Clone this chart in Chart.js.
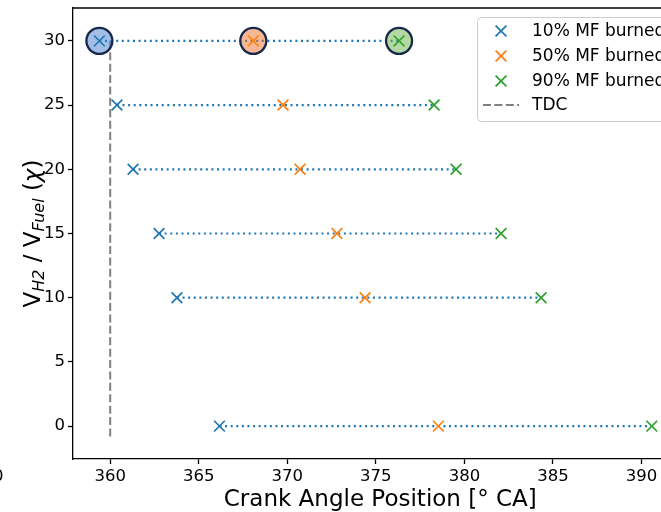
<!DOCTYPE html>
<html>
<head>
<meta charset="utf-8">
<script src="https://cdn.jsdelivr.net/npm/chart.js@4.4.0/dist/chart.umd.min.js"></script>
<style>
    html, body { margin: 0; padding: 0; background: #fff; }
</style>
</head>
<body>
<canvas id="chart" width="661" height="512"></canvas>
<script>
// Data
const ratios = [30, 25, 20, 15, 10, 0];
const mfb10 = [359.39, 360.38, 361.29, 362.76, 363.77, 366.17];
const mfb50 = [368.08, 369.76, 370.72, 372.8, 374.39, 378.53];
const mfb90 = [376.31, 378.29, 379.53, 382.07, 384.33, 390.58];
const highlightRatio = 30;
const tdcAngle = 360;
const tdcRange = [30, -1];
const xTicks = [360, 365, 370, 375, 380, 385, 390];
const yTicks = [0, 5, 10, 15, 20, 25, 30];
const seriesNames = ['10% MF burned', '50% MF burned', '90% MF burned'];
const seriesColors = ['#1f77b4', '#ff7f0e', '#2ca02c'];
const haloColors = ['rgba(72,126,206,0.5)', 'rgba(238,114,42,0.5)', 'rgba(106,178,68,0.5)'];

const FONT = "'DejaVu Sans', sans-serif";
// the figure is cropped on the right: the full axes would end at this angle
const fullAxisEnd = 392.6;

function points(xs) {
    return xs.map((x, i) => ({ x: x, y: ratios[i] }));
}

const series = [mfb10, mfb50, mfb90];
const hi = ratios.indexOf(highlightRatio);

const datasets = [];

// x markers (drawn on top)
series.forEach((xs, k) => {
    datasets.push({
        label: seriesNames[k],
        data: points(xs),
        pointStyle: 'crossRot',
        pointRadius: 7.6,
        pointBorderWidth: 1.7,
        borderColor: seriesColors[k],
        backgroundColor: seriesColors[k],
        showLine: false,
        order: 0
    });
});

// big circles on the highlighted row
datasets.push({
    label: 'highlight',
    data: series.map(xs => ({ x: xs[hi], y: ratios[hi] })),
    pointStyle: 'circle',
    pointRadius: 13,
    pointBorderWidth: 2.3,
    pointBorderColor: '#17294b',
    pointBackgroundColor: haloColors,
    showLine: false,
    order: 1
});

// dotted lines from 10% to 90%
ratios.forEach((r, i) => {
    datasets.push({
        label: 'span' + r,
        data: [{ x: mfb10[i], y: r }, { x: mfb90[i], y: r }],
        showLine: true,
        borderColor: seriesColors[0],
        borderWidth: 2.2,
        borderDash: [2, 3.6],
        pointRadius: 0,
        order: 2
    });
});

// TDC line
datasets.push({
    label: 'TDC',
    data: tdcRange.map(y => ({ x: tdcAngle, y: y })),
    showLine: true,
    borderColor: '#808080',
    borderWidth: 2,
    borderDash: [8, 3.4],
    pointRadius: 0,
    order: 3
});

const decorPlugin = {
    id: 'decor',
    afterDraw(chart) {
        const ctx = chart.ctx;
        const a = chart.chartArea;
        ctx.save();

        // top spine
        ctx.strokeStyle = '#000';
        ctx.lineWidth = 1.3;
        ctx.beginPath();
        ctx.moveTo(a.left, a.top);
        ctx.lineTo(a.right, a.top);
        ctx.stroke();

        // x title, centred on the full (uncropped) axes
        const fullRight = chart.scales.x.getPixelForValue(fullAxisEnd);
        ctx.fillStyle = '#000';
        ctx.font = '23px ' + FONT;
        ctx.textAlign = 'center';
        ctx.textBaseline = 'alphabetic';
        ctx.fillText('Crank Angle Position [° CA]', (a.left + fullRight) / 2, 506);

        // y title with subscripts
        const parts = [
            { t: 'V', f: '23px ' + FONT, dy: 0 },
            { t: 'H2', f: 'italic 16px ' + FONT, dy: 3.5 },
            { t: ' / V', f: '23px ' + FONT, dy: 0 },
            { t: 'Fuel', f: 'italic 16px ' + FONT, dy: 3.5 },
            { t: ' (', f: '23px ' + FONT, dy: 0 },
            { t: 'χ', f: 'italic 23px ' + FONT, dy: 0 },
            { t: ')', f: '23px ' + FONT, dy: 0 }
        ];
        let total = 0;
        parts.forEach(p => { ctx.font = p.f; p.w = ctx.measureText(p.t).width; total += p.w; });
        ctx.translate(40, (a.top + a.bottom) / 2);
        ctx.rotate(-Math.PI / 2);
        ctx.textAlign = 'left';
        let px = -total / 2;
        parts.forEach(p => {
            ctx.font = p.f;
            ctx.fillText(p.t, px, p.dy);
            px += p.w;
        });
        ctx.setTransform(1, 0, 0, 1, 0, 0);

        // legend
        ctx.fillStyle = 'rgba(255,255,255,0.8)';
        ctx.strokeStyle = '#cccccc';
        ctx.lineWidth = 1;
        ctx.beginPath();
        ctx.roundRect(477.5, 17.5, 220, 104, 4);
        ctx.fill();
        ctx.stroke();

        const rows = [31, 56, 81, 105];
        ctx.font = '17px ' + FONT;
        ctx.textAlign = 'left';
        ctx.textBaseline = 'middle';
        seriesNames.forEach((name, k) => {
            const y = rows[k];
            ctx.strokeStyle = seriesColors[k];
            ctx.lineWidth = 1.7;
            ctx.beginPath();
            ctx.moveTo(501 - 5.4, y - 5.4); ctx.lineTo(501 + 5.4, y + 5.4);
            ctx.moveTo(501 - 5.4, y + 5.4); ctx.lineTo(501 + 5.4, y - 5.4);
            ctx.stroke();
            ctx.fillStyle = '#000';
            ctx.fillText(name, 532, y + 1);
        });
        ctx.strokeStyle = '#808080';
        ctx.lineWidth = 2;
        ctx.setLineDash([8, 3.4]);
        ctx.beginPath();
        ctx.moveTo(483, rows[3]);
        ctx.lineTo(519, rows[3]);
        ctx.stroke();
        ctx.setLineDash([]);
        ctx.fillStyle = '#000';
        ctx.fillText('TDC', 532, rows[3] + 1);

        // stray tick label at the left edge
        ctx.font = '16.5px ' + FONT;
        ctx.textAlign = 'right';
        ctx.fillText('0', 3.5, 477);

        ctx.restore();
    }
};

new Chart(document.getElementById('chart'), {
    type: 'scatter',
    data: { datasets: datasets },
    options: {
        responsive: false,
        animation: false,
        layout: { autoPadding: false, padding: { top: 8, right: 0, left: 0, bottom: 0 } },
        plugins: {
            legend: { display: false },
            tooltip: { enabled: false }
        },
        scales: {
            x: {
                type: 'linear',
                min: 357.9,
                max: 391.1,
                afterBuildTicks: s => { s.ticks = xTicks.map(v => ({ value: v })); },
                afterFit: s => { s.height = 53; s.paddingLeft = 0; s.paddingRight = 0; },
                border: { display: true, color: '#000', width: 1.3 },
                grid: { display: true, drawOnChartArea: false, drawTicks: true, tickLength: 5, tickColor: '#000', tickWidth: 1.3 },
                ticks: { color: '#000', padding: 3, maxRotation: 0, font: { family: FONT, size: 16.5 } }
            },
            y: {
                type: 'linear',
                min: -2.56,
                max: 32.56,
                afterBuildTicks: s => { s.ticks = yTicks.map(v => ({ value: v })); },
                afterFit: s => { s.width = 73; s.paddingTop = 0; s.paddingBottom = 0; },
                border: { display: true, color: '#000', width: 1.3 },
                grid: { display: true, drawOnChartArea: false, drawTicks: true, tickLength: 5, tickColor: '#000', tickWidth: 1.3 },
                ticks: { color: '#000', padding: 3, font: { family: FONT, size: 16.5 } }
            }
        }
    },
    plugins: [decorPlugin]
});
</script>
</body>
</html>
